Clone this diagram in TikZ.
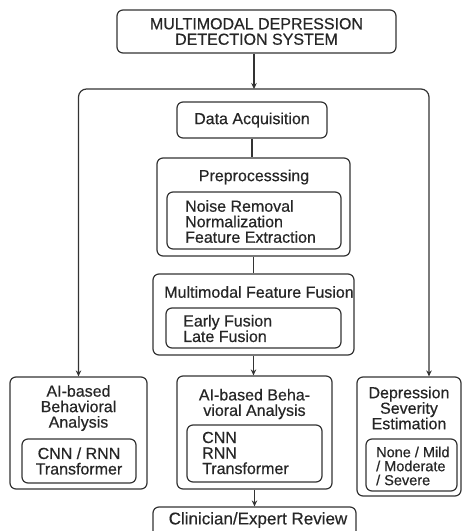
\documentclass[tikz,border=0pt]{standalone}
\usepackage{fontspec}
\setmainfont{Liberation Sans}[FakeBold=0.5]
\usetikzlibrary{arrows.meta,positioning}

\begin{document}
\begin{tikzpicture}[x=1pt,y=-1pt,
  >={Stealth[length=6pt,width=5.5pt]},
  every node/.style={font=\fontsize{16}{15.5}\selectfont,text=black!85},
  box/.style={draw=black!80,line width=1.2pt,rounded corners=6pt,inner sep=0pt},
  txt/.style={align=center,inner sep=0pt},
  list/.style={align=left,inner sep=0pt,anchor=west},
  link/.style={draw=black!80,line width=1.2pt}]
\clip (0,0) rectangle (462,531);

% System title
\node[box,align=center,minimum width=279pt,minimum height=43pt] (sys) at (256.5,31.5) {MULTIMODAL DEPRESSION\\DETECTION SYSTEM};

% Main pipeline
\node[box,minimum width=150pt,minimum height=36pt] (acq) at (252,120) {Data Acquisition};

\node[box,minimum width=193pt,minimum height=98pt] (pre) at (253.5,207) {};
\node[txt] (pretitle) at (254,177) {Preprocesssing};
\node[box,minimum width=174pt,minimum height=57pt] (prein) at (254,220.5) {};
\node[list] (prelist) at (185,221.5) {Noise Removal\\Normalization\\Feature Extraction};

\node[box,minimum width=201pt,minimum height=81pt] (fus) at (253.5,314.5) {};
\node[txt] (fustitle) at (259,292) {Multimodal Feature Fusion};
\node[box,minimum width=175pt,minimum height=40pt] (fusin) at (253.5,328) {};
\node[list] (fuslist) at (183,328.5) {Early Fusion\\Late Fusion};

% Analysis branches
\node[box,minimum width=137pt,minimum height=112pt] (left) at (78.5,433) {};
\node[txt] (lefttitle) at (78.5,408) {AI-based\\Behavioral\\Analysis};
\node[box,align=center,minimum width=114pt,minimum height=44pt] (leftin) at (79,461) {CNN / RNN\\Transformer};

\node[box,minimum width=155pt,minimum height=113pt] (mid) at (254.5,432.5) {};
\node[txt] (midtitle) at (254.5,404) {AI-based Beha-\\vioral Analysis};
\node[box,minimum width=135pt,minimum height=57pt] (midin) at (254.5,453.5) {};
\node[list] (midlist) at (202,453) {CNN\\RNN\\Transformer};

\node[box,minimum width=104pt,minimum height=119pt] (sev) at (409,436.5) {};
\node[txt] (sevtitle) at (409,408) {Depression\\Severity\\Estimation};
\node[box,minimum width=91pt,minimum height=52pt] (sevin) at (411.5,465) {};
\node[list,font=\fontsize{14.5}{14}\selectfont] (sevlist) at (376,466) {None / Mild\\/ Moderate\\/ Severe};

% Review
\node[box,minimum width=203pt,minimum height=34pt] (rev) at (254.5,524) {};
\node[txt,font=\fontsize{17}{17}\selectfont] (revtitle) at (258,520) {Clinician/Expert Review};

% Connectors
\coordinate (split) at (254,89);
\coordinate (rturn) at (429,89);
\draw[link,->] (sys.south -| split) -- (split);
\draw[link,<->,rounded corners=8pt] (left.north) -- (left.north |- split) -- (rturn) -- (rturn |- sev.north);
\draw[link] (acq.south) -- (acq.south |- pre.north);
\draw[link] (pre.south) -- (fus.north);
\draw[link,->] (fus.south) -- (fus.south |- mid.north);
\draw[link,->] (mid.south) -- (mid.south |- rev.north);
\end{tikzpicture}
\end{document}
